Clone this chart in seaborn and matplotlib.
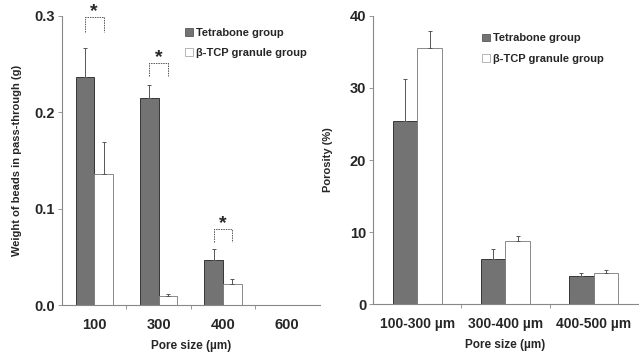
import matplotlib
matplotlib.use("Agg")
import matplotlib.pyplot as plt
import seaborn as sns
import pandas as pd
from matplotlib.patches import Patch

# ---- data ----
groups = ["Tetrabone group", "β-TCP granule group"]

left_cats = ["100", "300", "400", "600"]
left_tetra = [0.237, 0.215, 0.047, 0.0]
left_tcp = [0.136, 0.010, 0.022, 0.0]
left_tetra_err = [0.030, 0.013, 0.011, 0.0]
left_tcp_err = [0.033, 0.002, 0.005, 0.0]
left_sig = [0, 1, 2]  # categories with asterisk
left_sig_top = [0.299, 0.251, 0.079]
left_sig_bottom = [0.283, 0.238, 0.065]

right_cats = ["100-300 µm", "300-400 µm", "400-500 µm"]
right_tetra = [25.4, 6.25, 3.9]
right_tcp = [35.5, 8.75, 4.3]
right_tetra_err = [5.8, 1.45, 0.4]
right_tcp_err = [2.4, 0.75, 0.5]

sns.set_style("ticks")
plt.rcParams['font.family'] = ['Liberation Sans', 'DejaVu Sans']
plt.rcParams['font.weight'] = 'bold'

DARK = "#737373"
colors = [DARK, "white"]

fig = plt.figure(figsize=(6.39, 3.54), dpi=100)
axL = fig.add_axes([0.097, 0.138, 0.403, 0.817])
axR = fig.add_axes([0.584, 0.141, 0.414, 0.814])


def make_df(cats, a, b):
    return pd.DataFrame({
        "cat": cats * 2,
        "val": list(a) + list(b),
        "grp": [groups[0]] * len(cats) + [groups[1]] * len(cats),
    })


def draw(ax, cats, a, b, ea, eb, width, tick_size):
    df = make_df(cats, a, b)
    sns.barplot(data=df, x="cat", y="val", hue="grp", order=cats,
                hue_order=groups, palette=colors, width=width,
                errorbar=None, legend=False, ax=ax,
                edgecolor="#333333", linewidth=0.6)
    for cont, errs in zip(ax.containers, [ea, eb]):
        for p, e in zip(cont.patches, errs):
            if e <= 0:
                continue
            xc = p.get_x() + p.get_width() / 2
            ax.errorbar([xc], [p.get_height()], yerr=[[0], [e]], fmt="none",
                        ecolor="#555555", elinewidth=0.7, capsize=1.5,
                        capthick=0.7)
    for p in ax.containers[1].patches:
        p.set_edgecolor("#777777")
    for p in ax.containers[0].patches:
        p.set_edgecolor("#222222")
    ax.set_xlim(-0.5, len(cats) - 0.5)
    for s in ["top", "right"]:
        ax.spines[s].set_visible(False)
    for s in ["left", "bottom"]:
        ax.spines[s].set_color("#888888")
        ax.spines[s].set_linewidth(0.8)
    ax.tick_params(axis="x", length=0, labelsize=tick_size, pad=9)
    ax.tick_params(axis="y", length=3, width=0.6, color="#888888",
                   labelsize=10.5, pad=2)
    ax.set_xticks(range(len(cats)))
    ax.set_xticklabels(cats, fontweight="bold")
    ax.set_xticks([i + 0.5 for i in range(len(cats) - 1)], minor=True)
    ax.tick_params(axis="x", which="minor", length=3, width=0.6,
                   color="#888888", direction="out")
    ax.set_xlabel("Pore size (µm)", fontsize=8.5, fontweight="bold",
                  labelpad=6)
    handles = [Patch(facecolor=DARK, edgecolor="#444444", linewidth=0.5),
               Patch(facecolor="white", edgecolor="#999999", linewidth=0.5)]
    return handles


hL = draw(axL, left_cats, left_tetra, left_tcp, left_tetra_err,
          left_tcp_err, 0.58, 10.5)
axL.set_ylim(0, 0.3)
axL.set_yticks([0.0, 0.1, 0.2, 0.3])
axL.set_yticklabels(["0.0", "0.1", "0.2", "0.3"], fontweight="bold")
axL.set_ylabel("Weight of beads in pass-through (g)", fontsize=8,
               fontweight="bold", labelpad=9)
axL.legend(hL, groups, loc="upper left", bbox_to_anchor=(0.46, 0.975),
           frameon=False, handlelength=0.7, handleheight=0.7,
           handletextpad=0.3, labelspacing=0.95, borderaxespad=0.0,
           prop={"weight": "bold", "size": 8})

for i, top, bot in zip(left_sig, left_sig_top, left_sig_bottom):
    p0 = axL.containers[0].patches[i]
    p1 = axL.containers[1].patches[i]
    x0 = p0.get_x() + p0.get_width() / 2
    x1 = p1.get_x() + p1.get_width() / 2
    axL.plot([x0, x0, x1, x1], [bot, top, top, bot], color="#555555",
             lw=0.7, ls=(0, (1.5, 1)), clip_on=False)
    axL.text((x0 + x1) / 2, top + 0.006, "*", ha="center", va="center",
             fontsize=14, fontweight="bold", clip_on=False)

hR = draw(axR, right_cats, right_tetra, right_tcp, right_tetra_err,
          right_tcp_err, 0.56, 10)
axR.set_ylim(0, 40)
axR.set_yticks([0, 10, 20, 30, 40])
axR.set_yticklabels(["0", "10", "20", "30", "40"], fontweight="bold")
axR.set_ylabel("Porosity (%)", fontsize=8, fontweight="bold", labelpad=12)
axR.legend(hR, groups, loc="upper left", bbox_to_anchor=(0.395, 0.955),
           frameon=False, handlelength=0.7, handleheight=0.7,
           handletextpad=0.3, labelspacing=0.95, borderaxespad=0.0,
           prop={"weight": "bold", "size": 8})

fig.savefig("out.png", dpi=100)
